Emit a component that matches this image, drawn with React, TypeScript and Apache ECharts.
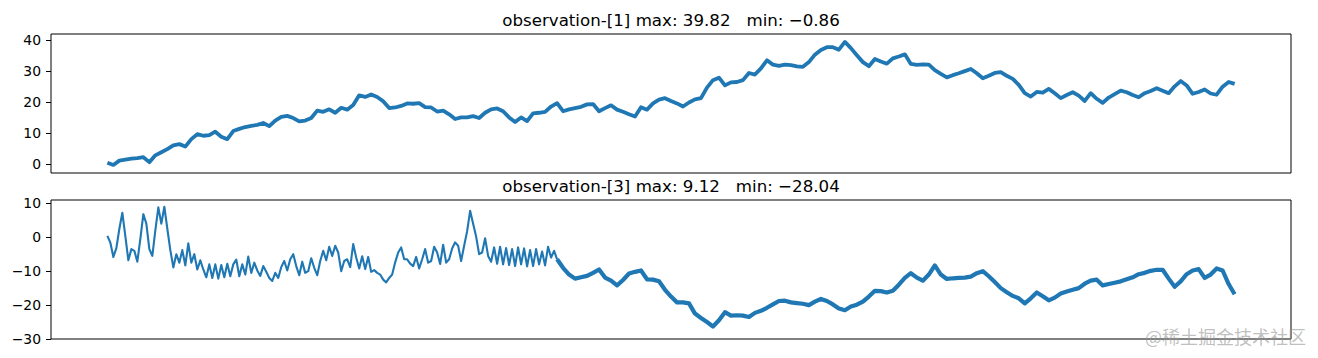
import React, { useEffect, useRef } from "react";
import * as echarts from "echarts";

const obs1Title = "observation-[1] max: 39.82   min: \u22120.86";
const obs3Title = "observation-[3] max: 9.12   min: \u221228.04";
const watermarkText = "@稀土掘金技术社区";

// observation-[1]: one reading every 2 time steps
const obs1Values = [
  0.4, -0.3, 1.1, 1.4, 1.7, 1.9, 2.2, 0.6, 2.8, 3.8,
  4.8, 6.0, 6.4, 5.6, 8.0, 9.6, 9.1, 9.3, 10.4, 8.8,
  8.0, 10.6, 11.3, 11.9, 12.3, 12.6, 13.2, 12.2, 14.0, 15.2,
  15.5, 14.8, 13.7, 14.0, 14.8, 17.2, 16.8, 17.6, 16.5, 18.1,
  17.5, 19.0, 22.1, 21.6, 22.4, 21.6, 20.2, 18.0, 18.2, 18.7,
  19.5, 19.4, 19.6, 18.3, 18.2, 16.9, 17.2, 16.0, 14.5, 15.0,
  15.0, 15.4, 14.8, 16.5, 17.6, 17.9, 17.0, 15.0, 13.5, 15.0,
  13.8, 16.3, 16.5, 16.8, 18.5, 19.6, 17.0, 17.6, 18.0, 18.4,
  19.2, 19.3, 17.0, 18.0, 18.9, 17.5, 16.8, 16.0, 15.3, 18.3,
  17.5, 19.5, 20.7, 21.2, 20.3, 19.5, 18.5, 19.8, 20.8, 21.2,
  24.6, 27.0, 27.8, 25.3, 26.3, 26.4, 27.0, 29.3, 28.8, 30.8,
  33.4, 32.0, 31.6, 32.0, 31.8, 31.4, 31.3, 32.8, 35.2, 36.7,
  37.6, 37.6, 36.8, 39.3, 37.3, 35.0, 32.8, 31.5, 33.8, 33.0,
  32.3, 34.0, 34.6, 35.3, 32.2, 31.9, 32.1, 32.0, 30.2, 29.0,
  27.9, 28.6, 29.2, 29.9, 30.6, 29.2, 27.6, 28.4, 29.3, 29.6,
  28.4, 27.4, 25.5, 22.8, 21.7, 23.2, 23.0, 24.2, 22.8, 21.2,
  22.2, 23.1, 22.0, 20.3, 22.8, 21.0, 19.7, 21.4, 22.5, 23.6,
  23.1, 22.2, 21.5, 22.8, 23.5, 24.4, 23.6, 22.8, 25.0, 26.7,
  25.3, 22.6, 23.2, 24.0, 22.7, 22.3, 24.9, 26.4, 25.8,
];

// observation-[3], oscillating first part: one reading every time step (t = 0..150)
const obs3OscValues = [
  0.4, -1.6, -5.8, -3.2, 2.5, 7.2, 0.3, -6.8, -3.5, -4.0,
  -7.2, -0.5, 6.8, 4.0, -3.5, -5.5, 2.0, 8.8, 4.0, 9.0,
  2.5, -3.8, -8.9, -5.0, -7.5, -3.8, -8.3, -1.8, -7.5, -5.0,
  -9.5, -6.8, -9.5, -11.8, -8.0, -12.0, -8.0, -12.2, -8.2, -11.8,
  -7.8, -11.5, -8.0, -6.6, -11.5, -8.0, -11.0, -5.7, -10.5, -7.5,
  -9.8, -11.4, -8.5, -10.2, -12.0, -12.9, -10.5, -12.0, -8.8, -7.0,
  -9.8, -6.5, -5.0, -8.5, -11.2, -7.2, -10.5, -10.0, -6.2, -9.0,
  -11.2, -7.0, -4.0, -6.8, -2.8, -5.5, -2.5, -4.5, -10.0, -7.0,
  -6.5, -8.8, -2.0, -6.0, -9.2, -5.6, -9.4, -5.8, -10.2, -9.7,
  -10.5, -11.0, -12.5, -13.3, -12.0, -11.0, -7.4, -4.5, -3.0, -6.5,
  -6.5, -7.8, -8.5, -5.8, -9.2, -6.5, -3.5, -7.5, -7.0, -2.8,
  -4.5, -7.9, -2.2, -7.5, -6.5, -3.3, -1.5, -2.5, -7.0, -2.5,
  1.8, 7.8, 4.0, 0.2, -5.0, -4.5, -0.3, -5.5, -7.2, -3.0,
  -7.8, -2.8, -8.0, -3.2, -8.2, -3.5, -8.5, -3.0, -8.0, -3.3,
  -8.6, -3.8, -8.5, -3.5, -8.0, -4.2, -8.3, -2.8, -6.0, -4.0,
  -6.5,
];

// observation-[3], noisy second part: one reading every 2 time steps (t = 150..376)
const obs3TrendValues = [
  -6.5, -9.0, -11.0, -12.2, -11.8, -11.4, -10.5, -9.5, -11.9, -12.8,
  -14.2, -12.6, -10.7, -10.2, -9.8, -12.4, -12.5, -13.0, -15.5, -17.5,
  -19.2, -19.2, -19.5, -22.5, -23.8, -25.0, -26.3, -24.5, -22.1, -23.1,
  -23.0, -23.1, -23.5, -22.3, -21.7, -20.8, -19.8, -18.8, -18.7, -19.2,
  -19.4, -19.6, -20.0, -19.0, -18.2, -18.8, -19.8, -21.0, -21.5, -20.4,
  -19.9, -19.0, -17.5, -15.8, -15.9, -16.3, -15.8, -14.0, -12.0, -10.6,
  -11.9, -12.8, -11.0, -8.3, -11.0, -12.3, -12.1, -12.0, -11.9, -11.6,
  -10.6, -10.0, -11.5, -13.2, -15.0, -16.2, -17.3, -18.0, -19.5, -18.0,
  -16.3, -17.4, -18.6, -17.8, -16.6, -16.0, -15.5, -15.0, -13.7, -12.8,
  -12.5, -14.2, -13.8, -13.4, -13.0, -12.4, -11.8, -10.9, -10.5, -9.9,
  -9.6, -9.6, -12.2, -14.6, -13.0, -10.9, -9.8, -9.4, -12.0, -11.0,
  -9.2, -9.8, -13.8, -16.8,
];

const obs1Ticks = [0, 10, 20, 30, 40];
const obs3Ticks = [-30, -20, -10, 0, 10];

const obs1Min = -0.86;
const obs1Max = 39.82;
const obs3Min = -28.04;
const obs3Max = 9.12;
const tLast = 376;

const BLUE = "#1f77b4";
const FONT = '"DejaVu Sans", "Liberation Sans", sans-serif';

function fmtTick(v: number) {
  return v < 0 ? "\u2212" + Math.abs(v) : String(v);
}

function pad(lo: number, hi: number) {
  const m = (hi - lo) * 0.05;
  return [lo - m, hi + m];
}

export default function App() {
  const ref = useRef<HTMLDivElement>(null);

  useEffect(() => {
    if (!ref.current) return;
    const chart = echarts.init(ref.current, null, { renderer: "svg" });

    const s1 = obs1Values.map((v, i) => [i * 2, v]);
    const s3a = obs3OscValues.map((v, k) => [k, v]);
    const s3b = obs3TrendValues.map((v, j) => [150 + j * 2, v]);

    const [x0, x1] = pad(0, tLast);
    const [y10, y11] = pad(obs1Min, obs1Max);
    const [y30raw, y31] = pad(obs3Min, obs3Max);
    const y30 = Math.min(y30raw, obs3Ticks[0]);

    const yAxisCommon = (ticks: number[]) => ({
      type: "value",
      axisLine: { show: false, onZero: false },
      splitLine: { show: false },
      axisTick: {
        show: true,
        length: 5,
        inside: false,
        lineStyle: { color: "#000", width: 1 },
        customValues: ticks,
      },
      axisLabel: {
        customValues: ticks,
        formatter: (v: number) => fmtTick(v),
        color: "#000",
        fontFamily: FONT,
        fontSize: 13.9,
        margin: 10,
      },
    });

    chart.setOption({
      animation: false,
      backgroundColor: "#fff",
      grid: [
        { left: 51, top: 34, width: 1240, height: 139, show: true, borderColor: "#000", borderWidth: 1, backgroundColor: "transparent" },
        { left: 51, top: 200, width: 1240, height: 139, show: true, borderColor: "#000", borderWidth: 1, backgroundColor: "transparent" },
      ],
      xAxis: [
        { type: "value", gridIndex: 0, min: x0, max: x1, show: false, axisLine: { onZero: false } },
        { type: "value", gridIndex: 1, min: x0, max: x1, show: false, axisLine: { onZero: false } },
      ],
      yAxis: [
        { ...yAxisCommon(obs1Ticks), gridIndex: 0, min: y10, max: y11 },
        { ...yAxisCommon(obs3Ticks), gridIndex: 1, min: y30, max: y31 },
      ],
      series: [
        {
          type: "line",
          xAxisIndex: 0,
          yAxisIndex: 0,
          data: s1,
          showSymbol: false,
          symbol: "none",
          lineStyle: { color: BLUE, width: 3.8, join: "round" },
        },
        {
          type: "line",
          xAxisIndex: 1,
          yAxisIndex: 1,
          data: s3a,
          showSymbol: false,
          symbol: "none",
          lineStyle: { color: BLUE, width: 2.1, join: "round" },
        },
        {
          type: "line",
          xAxisIndex: 1,
          yAxisIndex: 1,
          data: s3b,
          showSymbol: false,
          symbol: "none",
          lineStyle: { color: BLUE, width: 4.2, join: "round" },
        },
      ],
      graphic: [
        {
          type: "text",
          x: 671,
          y: 20.5,
          style: {
            text: obs1Title,
            fill: "#000",
            font: `16.67px ${FONT}`,
            textAlign: "center",
            textVerticalAlign: "middle",
          },
        },
        {
          type: "text",
          x: 671,
          y: 186.5,
          style: {
            text: obs3Title,
            fill: "#000",
            font: `16.67px ${FONT}`,
            textAlign: "center",
            textVerticalAlign: "middle",
          },
        },
        {
          type: "text",
          x: 1145,
          y: 336,
          style: {
            text: watermarkText,
            fill: "rgba(150,150,150,0.6)",
            font: '18px "Noto Sans CJK SC", sans-serif',
            textAlign: "left",
            textVerticalAlign: "middle",
          },
        },
      ],
    });

    return () => chart.dispose();
  }, []);

  return (
    <div
      ref={ref}
      style={{ position: "fixed", left: 0, top: 0, width: 1318, height: 358, background: "#fff" }}
    />
  );
}
